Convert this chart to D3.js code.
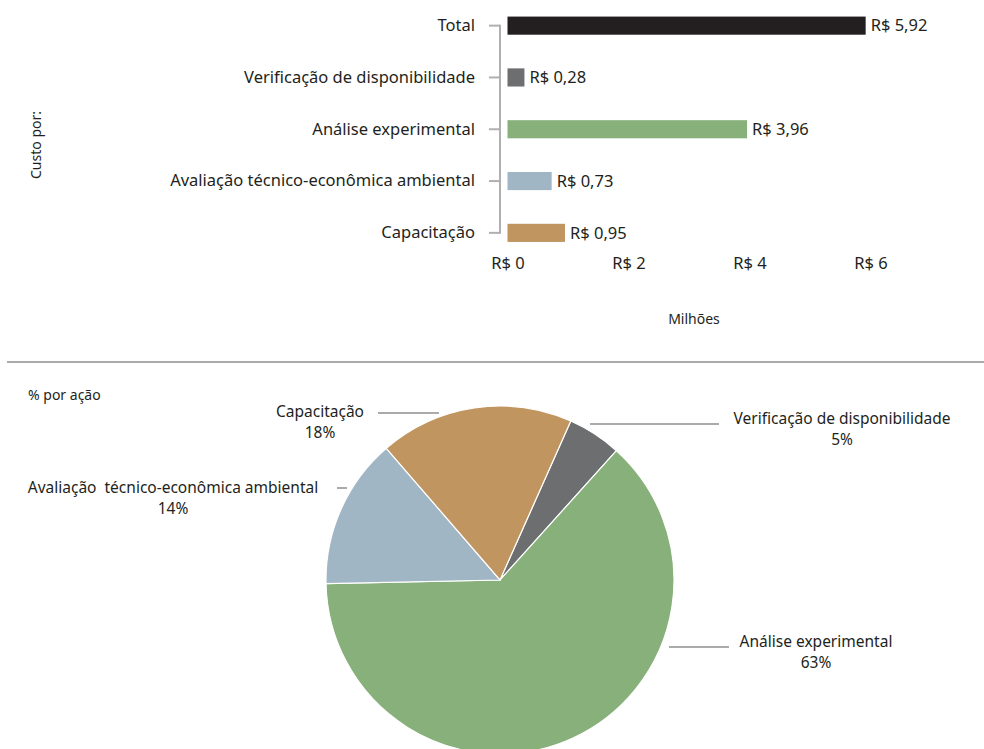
<!DOCTYPE html>
<html>
<head>
<meta charset="utf-8">
<script src="https://cdn.jsdelivr.net/npm/d3@7"></script>
<style>
  html, body { margin: 0; padding: 0; background: #fff; }
  svg { display: block; font-family: "Noto Sans", "Open Sans", sans-serif; }
</style>
</head>
<body>
<svg id="chart" width="984" height="749"></svg>
<script>
// Cost per action, in millions of reais (top to bottom in the bar chart)
const barCategories = ["Total", "Verificação de disponibilidade", "Análise experimental",
  "Avaliação técnico-econômica ambiental", "Capacitação"];
const barValues = [5.92, 0.28, 3.96, 0.73, 0.95];
const barColors = ["#231f20", "#6d6e70", "#87b07b", "#a0b6c4", "#c0955f"];
const xTicks = [0, 2, 4, 6];

// Share of each action (pie), clockwise
const pieCategories = ["Verificação de disponibilidade", "Análise experimental",
  "Avaliação  técnico-econômica ambiental", "Capacitação"];
const pieValues = [5, 63, 14, 18];
const pieColors = ["#6d6e70", "#87b07b", "#a0b6c4", "#c0955f"];

const textColor = "#231f20";
const mainSize = 16.5, pieSize = 15.5, smallSize = 14;
const svg = d3.select("#chart");
const fmt = v => "R$ " + d3.format(".2f")(v).replace(".", ",");

// ---------- Bar chart ----------
const x = d3.scaleLinear().domain([0, 6]).range([507.5, 870.5]);
const y = d3.scaleBand().domain(barCategories).range([0, 258.5]).paddingInner(0.65).paddingOuter(0.32);

const bars = svg.append("g");
bars.selectAll("rect").data(barValues).join("rect")
  .attr("x", x(0))
  .attr("y", (d, i) => y(barCategories[i]))
  .attr("width", d => x(d) - x(0))
  .attr("height", y.bandwidth())
  .attr("fill", (d, i) => barColors[i]);

bars.selectAll("text.val").data(barValues).join("text")
  .attr("class", "val")
  .attr("x", d => x(d) + 5)
  .attr("y", (d, i) => y(barCategories[i]) + y.bandwidth() / 2)
  .attr("dy", "0.35em")
  .attr("font-size", mainSize)
  .attr("fill", textColor)
  .text(fmt);

// category axis (bracket style)
const yAxis = svg.append("g")
  .attr("transform", "translate(500,0)")
  .call(d3.axisLeft(y).tickSize(11).tickPadding(14));
yAxis.select(".domain").attr("stroke", "#b0b0b0").attr("stroke-width", 2)
  .attr("d", () => {
    const y0 = y(barCategories[0]) + y.bandwidth() / 2 - 1;
    const y1 = y(barCategories[barCategories.length - 1]) + y.bandwidth() / 2 + 1;
    return `M0,${y0}V${y1}`;
  });
yAxis.selectAll(".tick line").attr("stroke", "#b0b0b0").attr("stroke-width", 2);
yAxis.selectAll(".tick text").attr("font-size", mainSize).attr("fill", textColor)
  .attr("font-family", "Noto Sans, sans-serif");

// value axis: labels only
const xAxis = svg.append("g")
  .attr("transform", "translate(0,257)")
  .call(d3.axisBottom(x).tickValues(xTicks).tickSize(0).tickPadding(0)
    .tickFormat(d => "R$ " + d));
xAxis.select(".domain").remove();
xAxis.selectAll(".tick text").attr("font-size", mainSize).attr("fill", textColor)
  .attr("font-family", "Noto Sans, sans-serif");

svg.append("text")
  .attr("x", 694).attr("y", 319).attr("dy", "0.35em")
  .attr("text-anchor", "middle").attr("font-size", smallSize).attr("fill", textColor)
  .text("Milhões");

svg.append("text")
  .attr("transform", "translate(36,145) rotate(-90)")
  .attr("dy", "0.35em")
  .attr("text-anchor", "middle").attr("font-size", smallSize).attr("fill", textColor)
  .text("Custo por:");

// separator
svg.append("line")
  .attr("x1", 7).attr("x2", 984).attr("y1", 362).attr("y2", 362)
  .attr("stroke", "#aaaaaa").attr("stroke-width", 2);

// ---------- Pie chart ----------
svg.append("text")
  .attr("x", 28).attr("y", 395).attr("dy", "0.35em")
  .attr("font-size", smallSize).attr("fill", textColor)
  .text("% por ação");

const cx = 500, cy = 580, r = 174;
const startDeg = 24;
const pie = d3.pie().sort(null)
  .startAngle(startDeg * Math.PI / 180)
  .endAngle((startDeg + 360) * Math.PI / 180);
const arc = d3.arc().innerRadius(0).outerRadius(r);

svg.append("g").attr("transform", `translate(${cx},${cy})`)
  .selectAll("path").data(pie(pieValues)).join("path")
  .attr("d", arc)
  .attr("fill", (d, i) => pieColors[i])
  .attr("stroke", "#fff").attr("stroke-width", 1.2);

// labels with leader lines
const pieLabels = [
  { line: [590, 719, 424], tx: 842, ty: 419 },
  { line: [669, 729, 647], tx: 816, ty: 642 },
  { line: [337, 347, 488], tx: 173, ty: 488 },
  { line: [378, 439, 413], tx: 320, ty: 412 }
];
const lg = svg.append("g");
pieLabels.forEach((p, i) => {
  lg.append("line")
    .attr("x1", p.line[0]).attr("x2", p.line[1])
    .attr("y1", p.line[2]).attr("y2", p.line[2])
    .attr("stroke", "#aaaaaa").attr("stroke-width", 2);
  const t = lg.append("text")
    .attr("text-anchor", "middle").attr("font-size", pieSize).attr("fill", textColor)
    .attr("xml:space", "preserve");
  t.append("tspan").attr("x", p.tx).attr("y", p.ty - 0.6).attr("dy", "0.35em").text(pieCategories[i]);
  t.append("tspan").attr("x", p.tx).attr("y", p.ty + 20.8).attr("dy", "0.35em").text(pieValues[i] + "%");
});
</script>
</body>
</html>
